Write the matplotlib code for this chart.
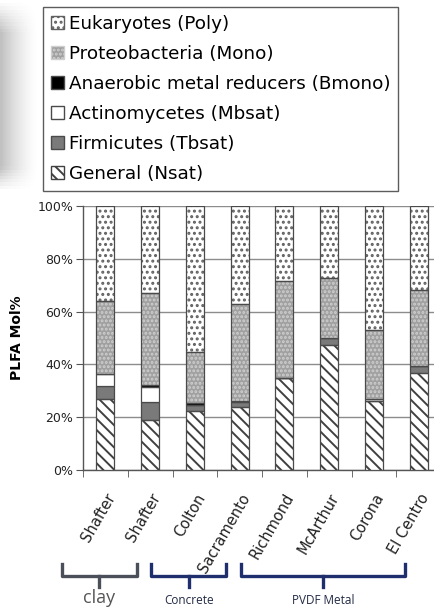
import numpy as np
import matplotlib.pyplot as plt
import matplotlib.patches as mpatches
from matplotlib.ticker import PercentFormatter, FixedLocator
from matplotlib.transforms import ScaledTranslation

# --- data (mol% per group, stacked bottom -> top) ---
sites = ['Shafter', 'Shafter', 'Colton', 'Sacramento',
         'Richmond', 'McArthur', 'Corona', 'El Centro']
general = [26.9, 18.8, 22.3, 23.7, 34.8, 47.3, 26.2, 36.6]
firmicutes = [5.0, 7.1, 2.3, 2.1, 0.0, 2.6, 0.0, 2.8]
actino = [4.3, 5.7, 0.0, 0.4, 0.0, 0.0, 0.8, 0.0]
anaerobic = [0.0, 0.6, 0.7, 0.0, 0.0, 0.0, 0.0, 0.0]
proteo = [27.9, 34.7, 19.3, 36.8, 36.7, 23.0, 25.9, 28.7]
eukaryotes = [35.9, 33.1, 55.4, 36.9, 28.5, 27.1, 47.1, 31.9]

series_labels = ['General (Nsat)', 'Firmicutes (Tbsat)', 'Actinomycetes (Mbsat)',
                 'Anaerobic metal reducers (Bmono)', 'Proteobacteria (Mono)',
                 'Eukaryotes (Poly)']

# groups: (label, first index, last index)
group_names = ['clay', 'Concrete', 'PVDF Metal']
group_start = [0, 2, 4]
group_end = [1, 3, 7]

# styles: facecolor, hatch, hatch colour
styles = [
    ('white', '\\\\\\', '#404040'),
    ('#7a7a7a', None, None),
    ('white', None, None),
    ('black', None, None),
    ('#a0a0a0', '....', '#cfcfcf'),
    ('white', '...', '#606060'),
]
edge = '#4a4a4a'
plt.rcParams['hatch.linewidth'] = 1.4

fig = plt.figure(figsize=(4.35, 6.08), dpi=100)

# soft shadow at the left edge of the legend area
sh = fig.add_axes([0, 1 - 192 / 608, 40 / 435, 192 / 608])
gx = np.linspace(1, 0, 40) ** 1.5
gy = np.clip(np.linspace(0, 1, 60) * 6, 0, 1) * np.clip((1 - np.linspace(0, 1, 60)) * 8, 0, 1)
sh.imshow(1 - 0.25 * np.outer(gy, gx), cmap='gray', vmin=0, vmax=1,
          aspect='auto', extent=[0, 1, 0, 1])
sh.axis('off')

ax = fig.add_axes([83 / 435, 138 / 608, 358 / 435, 264 / 608])
x = np.arange(len(sites))
width = 0.4
bottom = np.zeros(len(sites))
series = [general, firmicutes, actino, anaerobic, proteo, eukaryotes]
for vals, (fc, hatch, hc) in zip(series, styles):
    vals = np.array(vals)
    if hatch:
        ax.bar(x, vals, width, bottom=bottom, color=fc, hatch=hatch,
               edgecolor=hc, linewidth=0, zorder=3)
        ax.bar(x, vals, width, bottom=bottom, fill=False,
               edgecolor=edge, linewidth=0.9, zorder=4)
    else:
        ax.bar(x, vals, width, bottom=bottom, color=fc,
               edgecolor=edge, linewidth=0.9, zorder=3)
    bottom += vals

ax.set_xlim(-0.5, len(sites) - 0.5)
ax.set_ylim(0, 100)
ax.yaxis.set_major_locator(FixedLocator([0, 20, 40, 60, 80, 100]))
ax.yaxis.set_major_formatter(PercentFormatter(xmax=100, decimals=0))
ax.grid(axis='y', color='#8c8c8c', linewidth=1.0, zorder=0)
ax.set_axisbelow(True)
for s in ['top', 'right']:
    ax.spines[s].set_visible(False)
for s in ['left', 'bottom']:
    ax.spines[s].set_color('#555555')
    ax.spines[s].set_linewidth(1.0)

ax.set_xticks(x)
ax.set_xticks(np.arange(len(sites) + 1) - 0.5, minor=True)
ax.set_xticklabels(sites, rotation=60, ha='right', va='top',
                   rotation_mode='anchor', fontsize=10.5, color='#222222')
shift = ScaledTranslation(-9 / 100, 0, fig.dpi_scale_trans)
for lbl in ax.get_xticklabels():
    lbl.set_transform(lbl.get_transform() + shift)
ax.tick_params(axis='x', which='major', length=0, pad=15)
ax.tick_params(axis='x', which='minor', length=5, color='#555555')
ax.tick_params(axis='y', length=5, color='#555555', labelsize=9,
               labelcolor='#222222', pad=2)
ax.set_ylabel('PLFA Mol%', fontsize=10, fontweight='bold', labelpad=10)

# group braces under the labels
trans = ax.get_xaxis_transform()
brace_colors = ['#4a4f5a', '#1f2f6e', '#1f2f6e']
y_top, y_mid, y_stem = -0.355, -0.40, -0.445
for name, s0, s1, c in zip(group_names, group_start, group_end, brace_colors):
    x0, x1 = s0 - 0.97, s1 - 0.3
    xm = (x0 + x1) / 2
    ax.plot([x0, x0, x1, x1], [y_top, y_mid, y_mid, y_top], color=c, lw=2.4,
            transform=trans, clip_on=False, solid_joinstyle='round')
    ax.plot([xm, xm], [y_mid, y_stem], color=c, lw=2.4,
            transform=trans, clip_on=False)
    if name == 'clay':
        ax.text(xm, -0.485, name, transform=trans, ha='center', va='center',
                fontsize=13, color='#555555', family='Open Sans')
    else:
        ax.text(xm, -0.495, name, transform=trans, ha='center', va='center',
                fontsize=8.5, color='#222a44', family='Open Sans')

# legend (top entry = top of stack)
handles = []
for (fc, hatch, hc), lab in zip(styles, series_labels):
    if hatch:
        h = mpatches.Patch(facecolor=fc, hatch=hatch, edgecolor=hc, label=lab)
    else:
        h = mpatches.Patch(facecolor=fc, edgecolor=edge, label=lab)
    handles.append(h)
handles = handles[::-1]
leg = fig.legend(handles=handles, loc='upper left',
                 bbox_to_anchor=(43 / 435, 1 - 7 / 608),
                 fontsize=13.2, frameon=True, fancybox=False,
                 edgecolor='#333333', handlelength=0.7, handleheight=0.7,
                 handletextpad=0.3, labelspacing=0.66, borderpad=0.42,
                 borderaxespad=0)
leg.get_frame().set_linewidth(1.0)

fig.savefig('out.png', dpi=100)
